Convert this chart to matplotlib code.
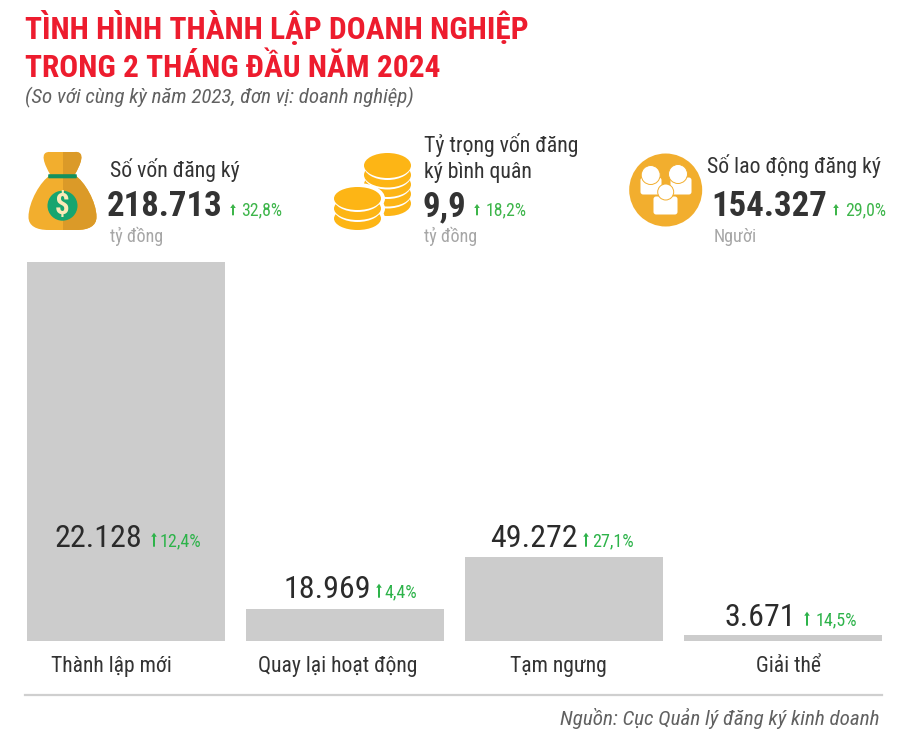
import matplotlib
matplotlib.use("Agg")
import matplotlib.pyplot as plt
from matplotlib.patches import Circle, Ellipse, Polygon, Rectangle, FancyBboxPatch, PathPatch
from matplotlib.path import Path

# ---------- data ----------
categories = ["Thành lập mới", "Quay lại hoạt động", "Tạm ngưng", "Giải thể"]
bar_lengths = [222128, 18969, 49272, 3671]   # drawn lengths
value_labels = ["22.128", "18.969", "49.272", "3.671"]
change_labels = ["12,4%", "4,4%", "27,1%", "14,5%"]
title_lines = ["TÌNH HÌNH THÀNH LẬP DOANH NGHIỆP", "TRONG 2 THÁNG ĐẦU NĂM 2024"]
subtitle = "(So với cùng kỳ năm 2023, đơn vị: doanh nghiệp)"
source = "Nguồn: Cục Quản lý đăng ký kinh doanh"
kpi_names = ["Số vốn đăng ký", "Tỷ trọng vốn đăng\nký bình quân", "Số lao động đăng ký"]
kpi_values = ["218.713", "9,9", "154.327"]
kpi_changes = ["32,8%", "18,2%", "29,0%"]
kpi_units = ["tỷ đồng", "tỷ đồng", "Người"]

# ---------- style ----------
NARROW = ["Roboto Condensed", "Roboto", "DejaVu Sans"]
RED, DARK, GREEN, GREY, BAR = "#ED1C2E", "#333333", "#3DB54A", "#A6A6A6", "#CCCCCC"
GOLD, GOLD_D, COIN = "#F2AE2E", "#DB9A28", "#FDB515"
W, H = 900, 735
plt.rcParams["font.family"] = NARROW

fig = plt.figure(figsize=(W / 100, H / 100), dpi=100, facecolor="white")

ov = fig.add_axes([0, 0, 1, 1])
ov.set_xlim(0, W); ov.set_ylim(H, 0); ov.axis("off")
ov.set_zorder(3)

def T(x, y, s, size, color=DARK, weight="normal", style="normal", ha="left", va="baseline", **kw):
    return ov.text(x, y, s, fontsize=size, color=color, fontweight=weight, fontstyle=style,
                   ha=ha, va=va, **kw)

def up_arrow(x, y0, y1, color):
    ov.add_patch(Polygon([(x - 1, y0), (x + 1, y0), (x + 1, y1 + 4), (x + 2.8, y1 + 4), (x, y1),
                          (x - 2.8, y1 + 4), (x - 1, y1 + 4)], fc=color, ec="none"))

# title block
T(25, 39, title_lines[0], 22.6, RED, "bold")
T(25, 77, title_lines[1], 22.6, RED, "bold")
T(25, 103, subtitle, 15.1, "#616161", style="italic")

# bars
pitch = 219.0
left_px = 126 - pitch / 2
ax = fig.add_axes([left_px / W, (H - 641) / H, 4 * pitch / W, (641 - 262) / H])
ax.set_xlim(-0.5, 3.5); ax.set_ylim(0, max(bar_lengths)); ax.axis("off")
ax.bar(range(4), bar_lengths, width=198 / pitch, color=BAR)

# bar labels
val_x = [55, 283, 490, 724]
val_y = [547, 598, 547, 626]
chg_x = [160, 384, 592, 816]
arrow_x = [154, 379, 586, 807]
for i in range(4):
    T(val_x[i], val_y[i], value_labels[i], 23, "#2B2B2B")
    up_arrow(arrow_x[i], val_y[i] - 0.3, val_y[i] - 14.3, "#2DB34A")
    T(chg_x[i], val_y[i] - 0.5, change_labels[i], 13, "#2DB34A")
label_x = [111, 337.5, 558.5, 788]
for i in range(4):
    T(label_x[i], 672, categories[i], 15.6, ha="center")

# rule and source
ov.plot([25, 882], [695, 695], color="#CFCFCF", lw=1.6)
T(880, 725, source, 15.2, "#616161", style="italic", ha="right")

# KPI blocks
T(110, 177, kpi_names[0], 15.7)
T(424, 152, kpi_names[1].split("\n")[0], 15.7)
T(424, 178, kpi_names[1].split("\n")[1], 15.7)
T(707, 173, kpi_names[2], 15.7)
kv_x = [107, 423, 711]
for i in range(3):
    T(kv_x[i], 216, kpi_values[i], 25, "#333333", "bold")
ar_x = [233, 477, 836]; ch_x = [241, 486, 845]
for i in range(3):
    up_arrow(ar_x[i], 215.3, 204, GREEN)
    T(ch_x[i], 215.5, kpi_changes[i], 12.8, GREEN)
for x, s in zip([110, 424, 714], kpi_units):
    T(x, 242, s, 13, GREY)

# --- money bag icon ---
x0 = 62.5
bag_v = [(x0 - 12, 152), (x0 + 12, 152), (x0 + 24, 151), (x0 + 18, 165), (x0 + 12, 175),
         (x0 + 22, 181), (x0 + 34, 202), (x0 + 34, 217), (x0 + 34, 226), (x0 + 26, 230), (x0 + 14, 230),
         (x0 - 14, 230), (x0 - 26, 230), (x0 - 34, 226), (x0 - 34, 217),
         (x0 - 34, 202), (x0 - 22, 181), (x0 - 12, 175), (x0 - 18, 165), (x0 - 24, 151), (x0 - 12, 152), (x0 - 12, 152)]
bag_c = [Path.MOVETO, Path.LINETO] + [Path.CURVE4] * 3 + [Path.CURVE4] * 3 + [Path.CURVE4] * 3 + [Path.LINETO] + \
        [Path.CURVE4] * 3 + [Path.CURVE4] * 3 + [Path.CURVE4] * 3 + [Path.CLOSEPOLY]
bag = Path(bag_v, bag_c)
ov.add_patch(PathPatch(bag, fc=GOLD, ec="none"))
p2 = PathPatch(bag, fc=GOLD_D, ec="none"); ov.add_patch(p2)
p2.set_clip_path(Rectangle((x0, 140), 50, 100, transform=ov.transData))
ov.add_patch(FancyBboxPatch((49, 175), 27, 2.5, boxstyle="round,pad=0.8", fc="#12915E", ec="none"))
ov.add_patch(Circle((62.5, 205.7), 15, fc="#16A56F", ec="none"))
T(62.5, 206, "$", 21, "#FBE9B7", "bold", ha="center", va="center", parse_math=False)

# --- coins icon ---
def coin_stack(cx, cy_list, rx, ry, backing=0):
    if backing:
        for cy in cy_list:
            ov.add_patch(Ellipse((cx, cy), 2 * (rx + backing), 2 * (ry + backing), fc="white", ec="none"))
    for cy in reversed(cy_list):
        ov.add_patch(Ellipse((cx, cy), 2 * rx + 1, 2 * ry + 4, fc="white", ec="none"))
        ov.add_patch(Ellipse((cx, cy), 2 * rx, 2 * ry, fc=COIN, ec="none"))
coin_stack(387.5, [165.5, 175, 184.5, 194, 203.5], 23.5, 12.5)
coin_stack(357.5, [198.5, 208.5, 218.5], 23.5, 11.5, backing=4)

# --- people icon ---
ov.add_patch(Circle((665.7, 190), 36.5, fc=GOLD, ec="none"))
def person(cx, head_y, head_r, bx0, bx1, by0, by1):
    ov.add_patch(FancyBboxPatch((bx0, by0), bx1 - bx0, by1 - by0,
                                boxstyle="round,pad=0,rounding_size=3", fc="white", ec=GOLD, lw=0.7))
    ov.add_patch(Circle((cx, head_y), head_r, fc="white", ec=GOLD, lw=0.7))
person(650.7, 175, 9.5, 640, 662, 177, 195)
person(678, 174, 9.5, 670, 692, 177, 195)
person(665.7, 192, 8, 653, 678, 196, 215)

fig.savefig("out.png", dpi=100, facecolor="white")
